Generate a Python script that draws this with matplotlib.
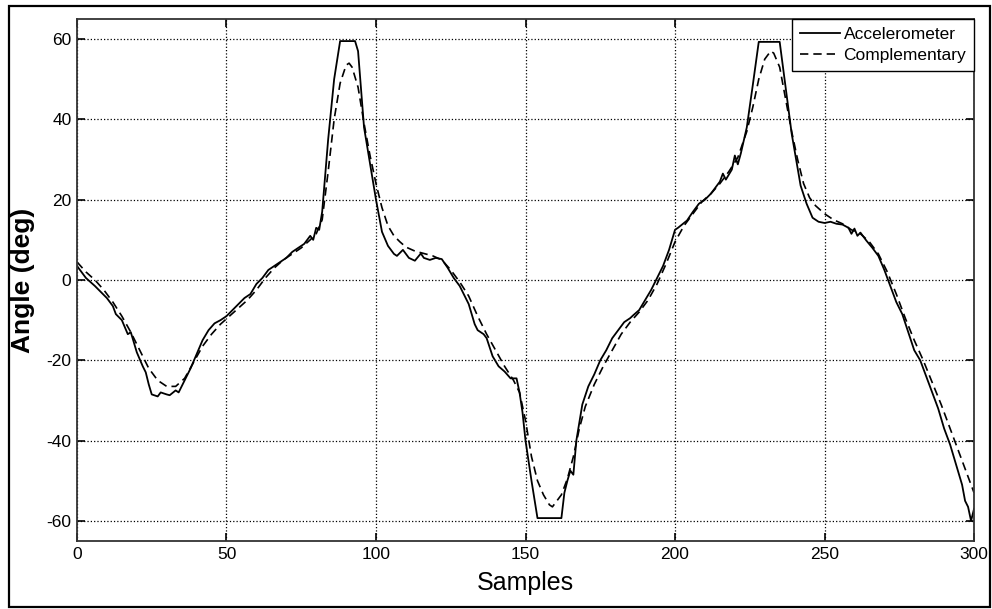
import numpy as np
import matplotlib
matplotlib.use("Agg")
import matplotlib.pyplot as plt
from matplotlib.patches import Rectangle

plt.rcParams['font.family'] = ['Liberation Sans', 'DejaVu Sans']
plt.rcParams['axes.unicode_minus'] = False

# accelerometer angle (raw, clipped at +-60)
acc_x = [0, 3, 6, 8, 10, 12, 13, 15, 17, 18, 20, 22, 23, 24, 25, 27, 28, 30, 31, 33,
         34, 36, 38, 40, 42, 44, 46, 48, 50, 52, 54, 56, 58, 60, 62, 64, 66, 68, 70, 72,
         74, 76, 78, 79, 80, 81, 82, 84, 86, 88, 93, 94, 96, 98, 100, 102, 104, 106, 107, 109,
         111, 113, 115, 116, 118, 120, 122, 124, 126, 128, 130, 131, 133, 134, 136, 137, 139, 141, 143, 145,
         147, 148, 149, 150, 152, 154, 162, 163, 164, 165, 166, 167, 169, 171, 173, 175, 177, 179, 181, 183,
         185, 186, 188, 190, 192, 194, 196, 198, 200, 201, 204, 206, 208, 210, 212, 214, 215, 216, 217, 219,
         220, 221, 222, 224, 226, 228, 235, 237, 239, 242, 244, 246, 248, 250, 252, 254, 256, 258, 259, 260,
         261, 262, 264, 266, 268, 270, 272, 274, 276, 278, 280, 282, 284, 286, 288, 290, 292, 294, 296, 297,
         298, 299, 300]
acc_y = [3.5, 0.5, -1.5, -3, -4.5, -6.5, -8.5, -10, -13.5, -13, -18, -21.5, -23, -26, -28.5, -29, -28, -28.5, -28.7, -27.5,
         -28, -25, -22, -18.5, -15, -12.5, -10.8, -10, -9, -7.5, -6, -4.5, -3.5, -1, 0.5, 2.5, 3.5, 4.5, 5.5, 7,
         8, 9, 11, 10, 13, 12.5, 17, 35, 50, 59.5, 59.5, 57, 38, 29, 20, 12, 8.5, 6.5, 6, 7.5,
         5.5, 4.8, 6.6, 5.5, 5, 5.5, 5.2, 3, 0.5, -1.5, -4.5, -6, -11, -12.5, -13.5, -14.5, -19, -21.5, -22.8, -24.5,
         -24.5, -28, -33, -40, -50, -59.3, -59.3, -53, -50, -47.5, -48.5, -40, -31, -26.5, -23.5, -20, -17.5, -14.5, -12.5, -10.5,
         -9.5, -8.8, -7.5, -5, -2.5, 0.5, 3.5, 7.5, 12.5, 13, 14.8, 17, 19, 20, 21.5, 23.5, 24.5, 26.5, 25, 27.5,
         31, 28.8, 31.5, 38, 48.5, 59.3, 59.3, 48, 36.5, 23.5, 19, 15.5, 14.5, 14.2, 14.5, 14, 13.8, 13, 11.5, 12.8,
         11, 11.8, 9.8, 8, 6, 2.5, -1.5, -5.5, -8.5, -13, -17.5, -20, -24, -28, -32, -37, -41, -46, -51, -55,
         -56.5, -60, -57]

# complementary filter output
comp_x = [0, 3, 6, 9, 12, 15, 18, 21, 24, 27, 30, 33, 36, 39, 42, 45, 48, 51, 54, 57,
          60, 63, 66, 69, 72, 75, 78, 80, 82, 84, 86, 88, 90, 91, 92, 94, 96, 98, 100, 102,
          104, 106, 108, 110, 113, 116, 119, 122, 125, 128, 131, 134, 137, 140, 143, 146, 148, 150, 152, 154,
          156, 158, 159, 160, 162, 164, 166, 168, 170, 173, 176, 179, 182, 185, 188, 191, 194, 197, 200, 203,
          206, 209, 212, 215, 218, 221, 224, 226, 228, 230, 232, 233, 235, 237, 239, 241, 243, 245, 247, 250,
          253, 256, 259, 262, 265, 268, 271, 274, 277, 280, 283, 286, 289, 292, 295, 298, 300]
comp_y = [4.5, 2, 0, -2.5, -5.5, -9, -13, -17.5, -22, -25, -26.5, -26.5, -24.5, -20.5, -16.5, -13.5, -11, -9, -7, -5,
          -2.5, 0.5, 3, 5, 6.5, 8, 10, 11.5, 15, 27, 40, 49, 53.5, 54, 53, 48, 39, 31, 24, 18,
          13.5, 11, 9.5, 8.2, 7.2, 6.6, 6, 5, 2.5, -0.5, -4, -9, -13.5, -17.5, -21.5, -25, -28, -35, -44, -50,
          -53.5, -56, -56.5, -55.5, -53.5, -49.5, -44, -37, -31.5, -26, -21.5, -17.5, -13.5, -10.5, -8, -5, -1, 4, 9.5, 13.5,
          16.5, 19.5, 21.5, 24, 27, 30.5, 37, 43, 50, 55, 57, 56.5, 53, 45, 37, 30, 24, 20.5, 18.5, 16.5,
          15, 14, 12.5, 11.5, 9.5, 6.5, 2, -3.5, -9.5, -15, -20, -25.5, -31, -37, -43, -49, -53]

xticks = [0, 50, 100, 150, 200, 250, 300]
yticks = [-60, -40, -20, 0, 20, 40, 60]

fig = plt.figure(figsize=(9.92, 6.09), dpi=100)
ax = fig.add_axes([0.0776, 0.1117, 0.9043, 0.8571])

ax.plot(acc_x, acc_y, color='black', lw=1.3, label='Accelerometer')
ax.plot(comp_x, comp_y, color='black', lw=1.2, linestyle=(0, (5, 3)), label='Complementary')

ax.set_xlim(0, 300)
ax.set_ylim(-65, 65)
ax.set_xticks(xticks)
ax.set_yticks(yticks)
ax.grid(True, color='black', linestyle=':', linewidth=0.9)
ax.tick_params(direction='in', length=6, width=1.2, top=True, right=True,
               labelsize=12.5, pad=4)
for sp in ax.spines.values():
    sp.set_linewidth(1.3)
    sp.set_color('#333333')

ax.set_xlabel('Samples', fontsize=18)
ax.set_ylabel('Angle (deg)', fontsize=19, fontweight='bold')
ax.xaxis.set_label_coords(0.5, -0.057)
ax.yaxis.set_label_coords(-0.047, 0.5)

leg = ax.legend(loc='upper right', borderaxespad=0, fontsize=12.5, fancybox=False,
                edgecolor='black', framealpha=1, handlelength=2.3,
                borderpad=0.45, labelspacing=0.35, handletextpad=0.2)
leg.get_frame().set_linewidth(1.0)

# outer frame round the whole picture
fig.patches.append(Rectangle((0.009, 0.004), 0.989, 0.986, transform=fig.transFigure,
                             fill=False, edgecolor='black', lw=1.6))

fig.savefig('out.png', dpi=100)
